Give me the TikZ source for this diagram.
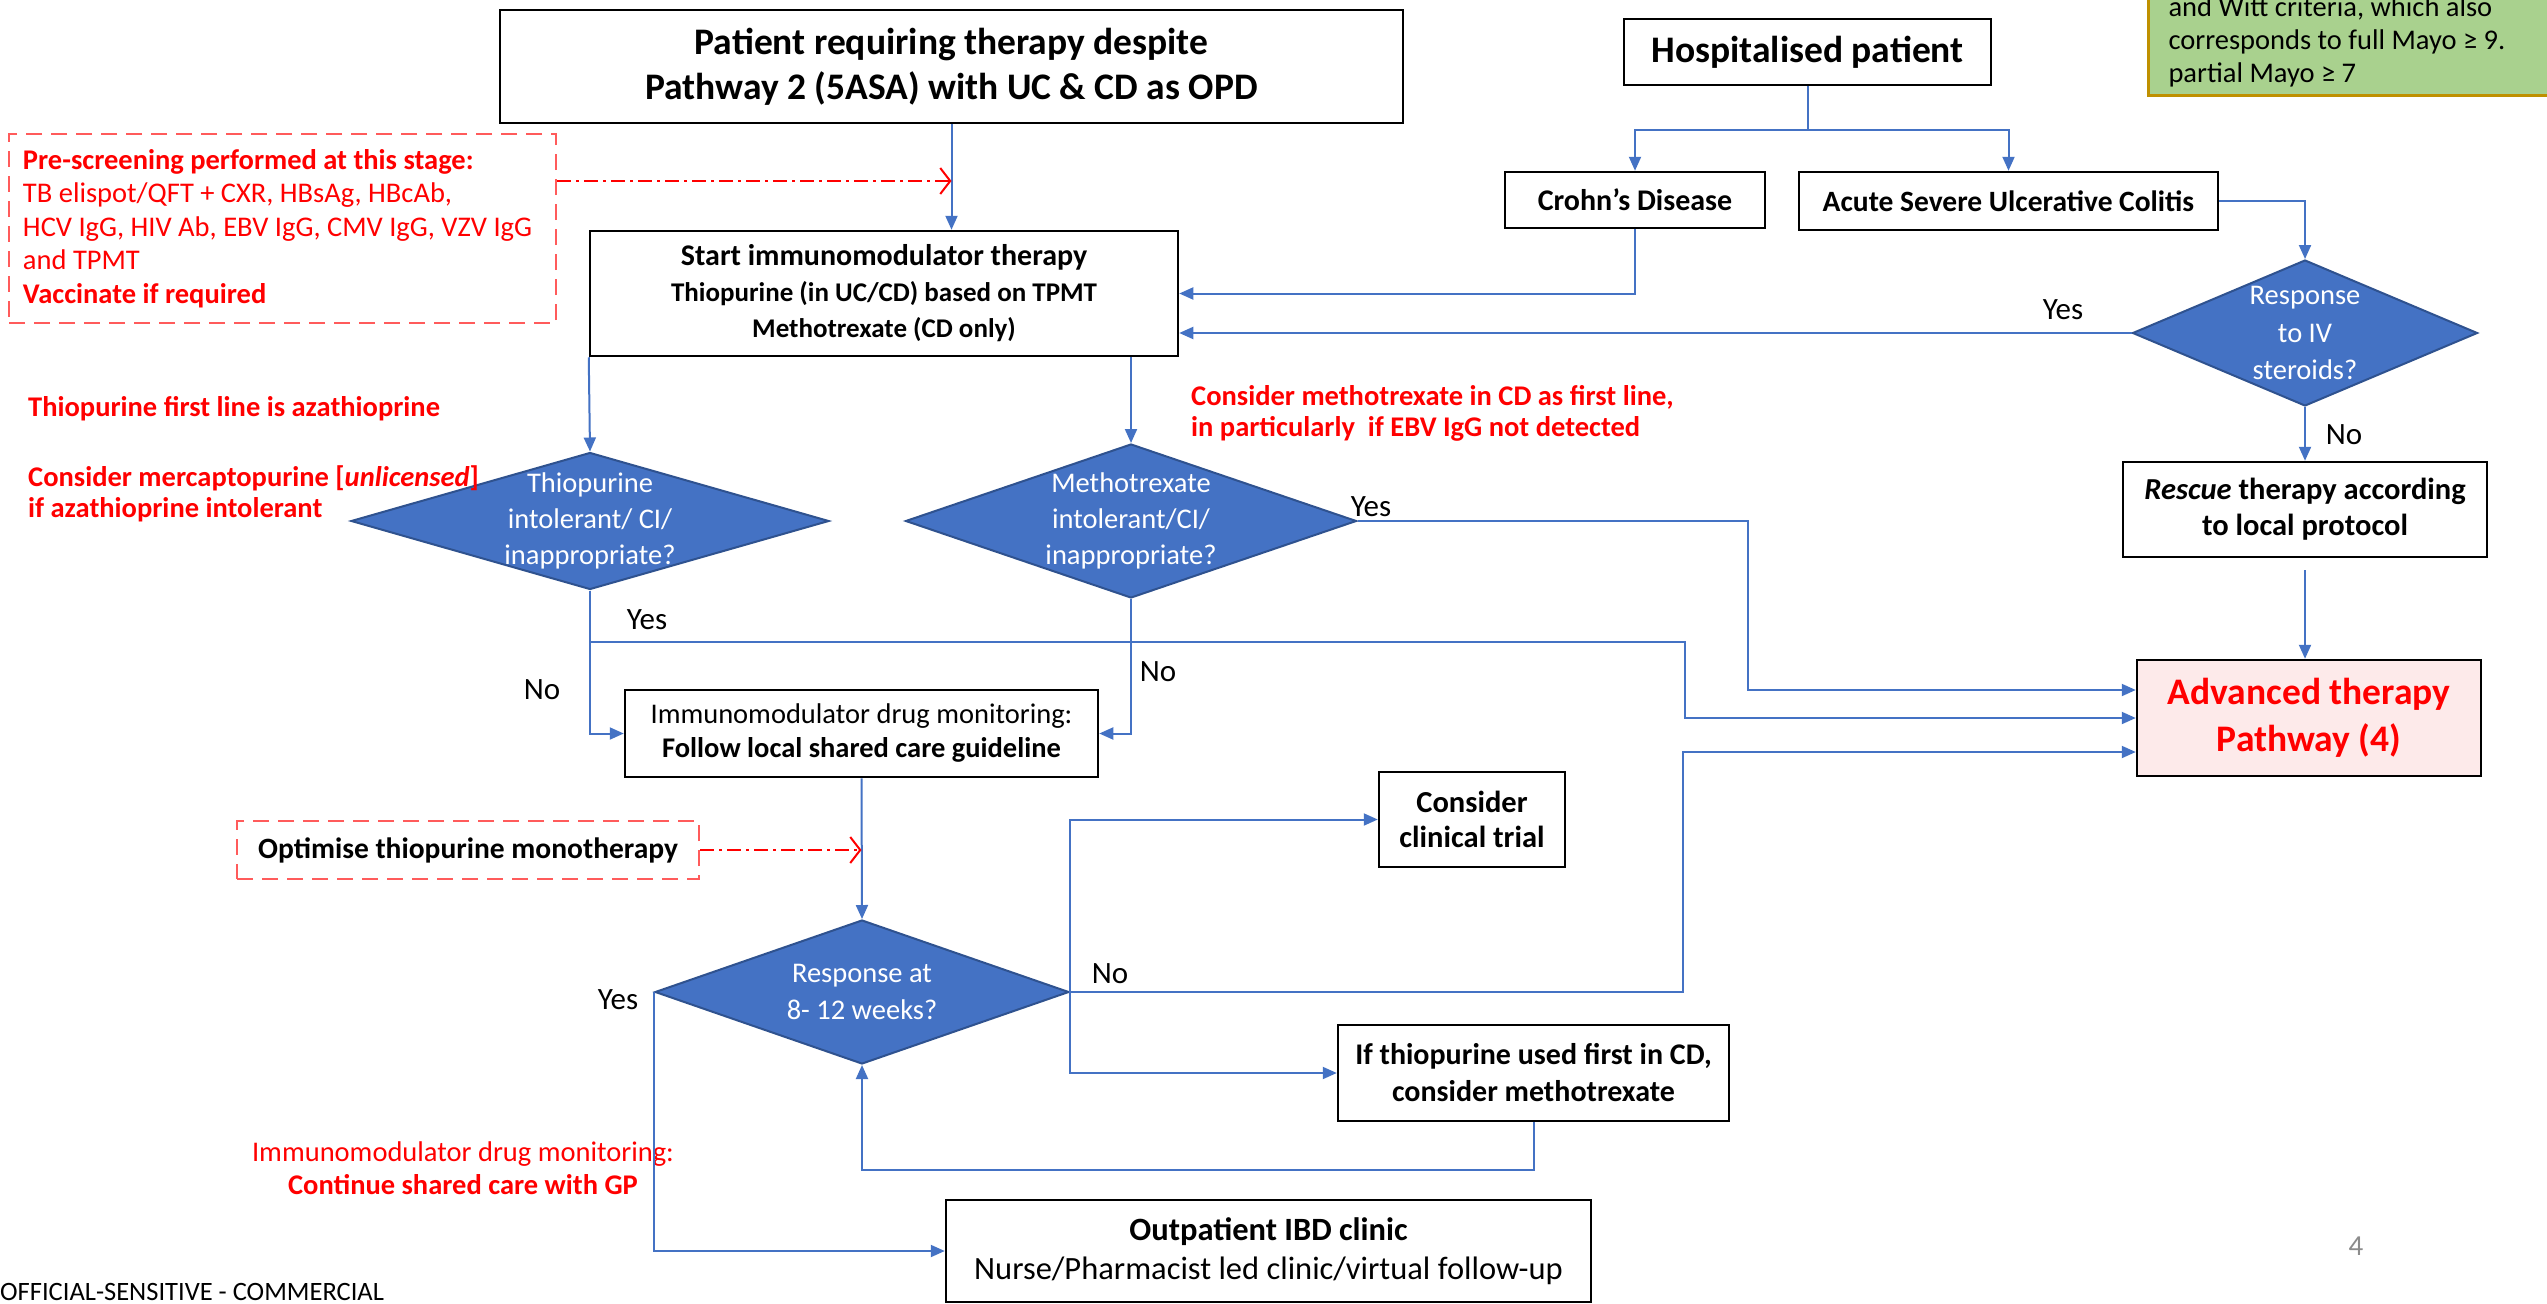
\documentclass[tikz,border=0pt]{standalone}
\usepackage{fontspec}
\setmainfont{Carlito}
\frenchspacing
\usetikzlibrary{shapes.geometric,arrows.meta,calc}
\definecolor{lineblue}{HTML}{4472C4}
\definecolor{diablue}{HTML}{4472C4}
\definecolor{diaborder}{HTML}{2F528F}
\definecolor{greenfill}{HTML}{A9D18E}
\definecolor{goldborder}{HTML}{BF9000}
\definecolor{pinkfill}{HTML}{FDEAEA}
\definecolor{dashred}{HTML}{FF5B5B}
\definecolor{pagegray}{HTML}{8C8C8C}
\tikzset{
 box/.style={draw=black, line width=2.5pt, fill=white, align=flush center, inner sep=0pt, text=black},
 dia/.style={diamond, draw=diaborder, fill=diablue, line width=2pt, inner sep=0pt},
 diatext/.style={text=white, align=flush center, inner sep=0pt, font=\fontsize{28.5}{36}\selectfont},
 conn/.style={draw=lineblue, line width=2pt, -{Triangle[length=14pt,width=12pt]}},
 redbox/.style={draw=dashred, line width=2.5pt, dash pattern=on 16pt off 9pt},
 redarrow/.style={draw=red, line width=2pt, dash pattern=on 14pt off 5pt on 3pt off 5pt, -{Straight Barb[length=10pt,width=26pt]}},
 lbl/.style={font=\fontsize{31}{36}\selectfont, inner sep=0pt},
 redtext/.style={text=red, inner sep=0pt, align=flush left, font=\fontsize{28.5}{31}\selectfont\bfseries},
}
\begin{document}
\begin{tikzpicture}[x=1pt,y=-1pt]
\useasboundingbox[fill=white] (0,0) rectangle (2547,1303);

% green note (cut at top, as in the reference)
\node[draw=goldborder, fill=greenfill, line width=3pt, anchor=south west, minimum width=420, text width=380, align=flush left, inner xsep=20pt, inner ysep=8pt, font=\fontsize{28.5}{33}\selectfont] (note) at (2147,97) {and Witt criteria, which also\\corresponds to full Mayo ≥ 9.\\partial Mayo ≥ 7};

% main boxes
\node[box, minimum width=903, minimum height=113, font=\fontsize{37.5}{45}\selectfont\bfseries] (title) at (951.5,66.5) {\raisebox{-3pt}{Patient requiring therapy despite}\\\raisebox{-3pt}{Pathway 2 (5ASA) with UC \& CD as OPD}};
\node[box, minimum width=588, minimum height=125, font=\fontsize{27}{36}\selectfont\bfseries] (start) at (884,293.5) {{\fontsize{30}{36}\selectfont Start immunomodulator therapy}\\Thiopurine (in UC/CD) based on TPMT\\Methotrexate (CD only)};
\node[box, minimum width=367, minimum height=66, font=\fontsize{37.5}{44}\selectfont\bfseries] (hosp) at (1807.5,52) {Hospitalised patient};
\node[box, minimum width=260, minimum height=56, font=\fontsize{30}{34}\selectfont\bfseries] (crohn) at (1635,200) {Crohn’s Disease};
\node[box, minimum width=419, minimum height=58, font=\fontsize{29.5}{34}\selectfont\bfseries] (asuc) at (2008.5,201) {Acute Severe Ulcerative Colitis};
\node[dia, minimum width=345, minimum height=146, label={[diatext, font=\fontsize{28.5}{37.5}\selectfont]center:{Response\\to IV\\steroids?}}] (ivd) at (2305,333) {};
\node[box, minimum width=364, minimum height=95, font=\fontsize{30.5}{36}\selectfont\bfseries] (rescue) at (2305,509.5) {\textit{Rescue} therapy according\\to local protocol};
\node[box, fill=pinkfill, text=red, minimum width=344, minimum height=116, font=\fontsize{37.5}{47}\selectfont\bfseries] (adv) at (2309,718) {Advanced therapy\\Pathway (4)};

\node[redbox, minimum width=547, minimum height=189, text width=519, align=flush left, inner xsep=14pt, text=red, font=\fontsize{28.5}{33.5}\selectfont] (prescreen) at (282.5,228.5) {\textbf{Pre-screening performed at this stage:}\\TB elispot/QFT + CXR, HBsAg, HBcAb,\\HCV IgG, HIV Ab, EBV IgG, CMV IgG, VZV IgG\\and TPMT\\\textbf{Vaccinate if required}};

\node[dia, minimum width=478, minimum height=137, label={[diatext]center:{Thiopurine\\intolerant/ CI/\\inappropriate?}}] (thd) at (590,521) {};
\node[dia, minimum width=451, minimum height=154, label={[diatext]center:{Methotrexate\\intolerant/CI/\\inappropriate?}}] (mtd) at (1131,521) {};

\node[box, minimum width=473, minimum height=87, font=\fontsize{28.5}{34}\selectfont] (monitor) at (861.5,733.5) {Immunomodulator drug monitoring:\\\textbf{Follow local shared care guideline}};
\node[redbox, minimum width=462, minimum height=58, align=flush center, font=\fontsize{29.5}{34}\selectfont\bfseries] (optim) at (468,850) {Optimise thiopurine monotherapy};

\node[dia, minimum width=414, minimum height=144, label={[diatext, font=\fontsize{28.5}{37}\selectfont]center:{Response at\\8- 12 weeks?}}] (resp) at (862,992) {};
\node[box, minimum width=186, minimum height=95, font=\fontsize{30.5}{35}\selectfont\bfseries] (trial) at (1472,819.5) {Consider\\clinical trial};
\node[box, minimum width=391, minimum height=96, font=\fontsize{30}{37}\selectfont\bfseries] (ifthio) at (1533.5,1073) {If thiopurine used first in CD,\\consider methotrexate};
\node[box, minimum width=645, minimum height=102, font=\fontsize{32.5}{39}\selectfont] (outp) at (1268.5,1251) {\textbf{Outpatient IBD clinic}\\Nurse/Pharmacist led clinic/virtual follow-up};

% free texts
\node[redtext, anchor=west] (azaline) at (28,409) {Thiopurine first line is azathioprine};
\node[redtext, anchor=west] (mercap) at (28,494) {Consider mercaptopurine [\textit{unlicensed}]\\if azathioprine intolerant};
\node[redtext, font=\fontsize{28.5}{31}\selectfont\bfseries, anchor=west] (mtxnote) at (1191,413) {Consider methotrexate in CD as first line,\\in particularly\ \ if EBV IgG not detected};
\node[text=red, align=flush center, inner sep=0pt, font=\fontsize{28.5}{33}\selectfont] (gpnote) at (463,1168) {Immunomodulator drug monitoring:\\\textbf{Continue shared care with GP}};
\node[anchor=west, inner sep=0pt, font=\fontsize{26.5}{30}\selectfont] (official) at (0,1292) {OFFICIAL-SENSITIVE - COMMERCIAL};
\node[text=pagegray, inner sep=0pt, font=\fontsize{29}{34}\selectfont] (pagenum) at (2356,1246) {4};

% yes / no labels
\node[lbl] (ivyes) at (2063,310) {Yes};
\node[lbl] (ivno) at (2344,435) {No};
\node[lbl] (thyes) at (647,620) {Yes};
\node[lbl] (thno) at (542,690) {No};
\node[lbl] (mtno) at (1158,672) {No};
\node[lbl] (mtyes) at (1371,507) {Yes};
\node[lbl] (rsno) at (1110,974) {No};
\node[lbl] (rsyes) at (618,1000) {Yes};

% helper coordinates
\coordinate (advA) at ($(adv.west)+(0,-28)$);
\coordinate (advB) at (adv.west);
\coordinate (advC) at ($(adv.west)+(0,34)$);
\coordinate (pstarget) at ($(title.south)!0.5!(title.south |- start.north)+(0,4)$);
\coordinate (yesj) at ($(thd.south)+(1095,51)$);
\coordinate (optt) at (monitor.south |- optim.east);

% connectors
\draw[conn] (title.south) -- (title.south |- start.north);
\draw[redarrow] (prescreen.east |- pstarget) -- (pstarget);
\draw[conn] (hosp.south) -- ++(0,44) -| (crohn.north);
\draw[conn] (hosp.south) ++(0,44) -| (asuc.north);
\draw[conn] (asuc.east) -| (ivd.north);
\draw[conn] (crohn.south) |- (start.east);
\draw[conn] (ivd.west) -- (ivd.west -| start.east);
\draw[conn] (ivd.south) -- (rescue.north);
\draw[conn, shorten <=12pt] (rescue.south) -- (rescue.south |- adv.north);
\draw[conn] (start.south west) -- (thd.north);
\draw[conn] (mtd.north |- start.south) -- (mtd.north);
\draw[conn] (thd.south) |- (yesj) |- (advB);
\draw[conn] (thd.south) |- (monitor.west);
\draw[conn] (mtd.south) |- (monitor.east);
\draw[conn] (mtd.east) -- ++(390,0) |- (advA);
\draw[conn] (monitor.south) -- (resp.north);
\draw[redarrow] (optim.east) -- (optt);
\draw[conn] (resp.east) -- ++(613,0) |- (advC);
\draw[conn] (resp.east) |- (trial.west);
\draw[conn] (resp.east) |- (ifthio.west);
\draw[conn] (ifthio.south) -- ++(0,48) -| (resp.south);
\draw[conn] (resp.west) |- (outp.west);
\end{tikzpicture}
\end{document}
